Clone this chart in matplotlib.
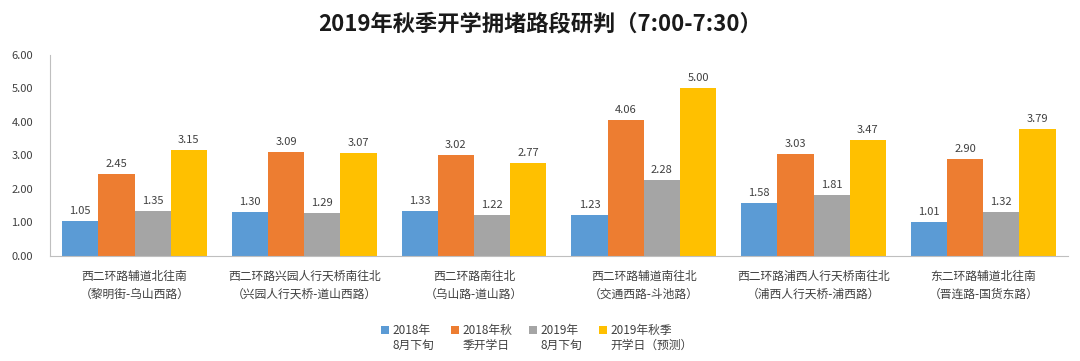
import numpy as np
import matplotlib.pyplot as plt

plt.rcParams['font.family'] = ['Noto Sans CJK SC', 'DejaVu Sans']

categories = ["西二环路辅道北往南\n（黎明街-乌山西路）",
              "西二环路兴园人行天桥南往北\n（兴园人行天桥-道山西路）",
              "西二环路南往北\n（乌山路-道山路）",
              "西二环路辅道南往北\n（交通西路-斗池路）",
              "西二环路浦西人行天桥南往北\n（浦西人行天桥-浦西路）",
              "东二环路辅道北往南\n（晋连路-国货东路）"]
series_names = ["2018年\n8月下旬", "2018年秋\n季开学日", "2019年\n8月下旬", "2019年秋季\n开学日（预测）"]
s2018_aug = [1.05, 1.30, 1.33, 1.23, 1.58, 1.01]
s2018_fall = [2.45, 3.09, 3.02, 4.06, 3.03, 2.90]
s2019_aug = [1.35, 1.29, 1.22, 2.28, 1.81, 1.32]
s2019_fall = [3.15, 3.07, 2.77, 5.00, 3.47, 3.79]
yticks = [0, 1, 2, 3, 4, 5, 6]

colors = ["#5B9BD5", "#ED7D31", "#A5A5A5", "#FFC000"]
text_color = "#404040"

fig = plt.figure(figsize=(10.8, 3.61), dpi=100)
ax = fig.add_axes([0.046, 0.291, 0.943, 0.557])

x = np.arange(len(categories))
w = 0.213
data = [s2018_aug, s2018_fall, s2019_aug, s2019_fall]
for i, (vals, name, c) in enumerate(zip(data, series_names, colors)):
    bars = ax.bar(x + (i - 1.5) * w, vals, w, color=c, label=name)
    for b, v in zip(bars, vals):
        ax.text(b.get_x() + b.get_width() / 2, v + 0.15, f"{v:.2f}",
                ha='center', va='bottom', fontsize=8, color=text_color)

ax.set_xlim(-0.5, len(categories) - 0.5)
ax.set_ylim(0, 6)
ax.set_yticks(yticks)
ax.set_yticklabels([f"{t:.2f}" for t in yticks], fontsize=8, color=text_color)
ax.set_xticks(x)
ax.set_xticklabels(categories, fontsize=8.5, color=text_color, linespacing=1.5)
ax.tick_params(axis='both', length=0)
ax.tick_params(axis='y', pad=12)
ax.tick_params(axis='x', pad=10)
for s in ['top', 'right']:
    ax.spines[s].set_visible(False)
for s in ['left', 'bottom']:
    ax.spines[s].set_color("#BFBFBF")

fig.text(0.5, 0.935, "2019年秋季开学拥堵路段研判（7:00-7:30）", ha='center', va='center',
         fontsize=16, fontweight='bold', color="#1a1a1a")

leg = fig.legend(loc='center', bbox_to_anchor=(0.497, 0.065), ncol=4, frameon=False,
                 fontsize=8.5, handlelength=0.7, handleheight=0.7, handletextpad=0.3,
                 columnspacing=1.4)
for t in leg.get_texts():
    t.set_color(text_color)
    t.set_multialignment('left')
# put the colour squares next to the first line, like the original
for h in leg.legend_handles:
    h.set_y(h.get_y() + 6)

fig.savefig("out.png", dpi=100)
